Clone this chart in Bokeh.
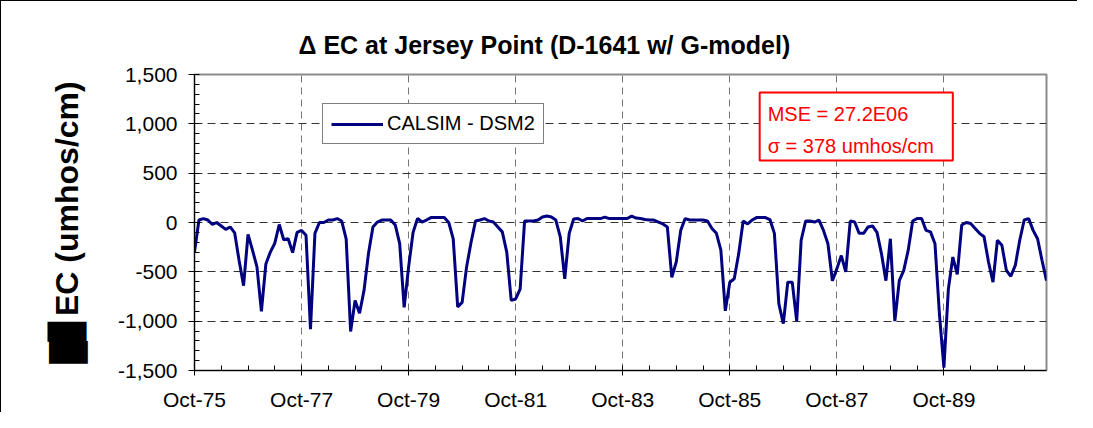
from bokeh.plotting import figure
from bokeh.models import (Range1d, FixedTicker, NumeralTickFormatter, Legend, LegendItem,
                          BoxAnnotation, Label)
from bokeh.embed import file_html
from bokeh.resources import INLINE

# ---------------- data ----------------
title_text = "\u0394 EC at Jersey Point (D-1641 w/ G-model)"
y_label = "\u2588\u258aEC (umhos/cm)"
series_name = "CALSIM - DSM2"
mse_text = "MSE = 27.2E06"
sigma_text = "\u03c3 = 378 umhos/cm"

tick_months = [0, 24, 48, 72, 96, 120, 144, 168]
tick_labels = ["Oct-75", "Oct-77", "Oct-79", "Oct-81", "Oct-83", "Oct-85", "Oct-87", "Oct-89"]
y_ticks = [-1500, -1000, -500, 0, 500, 1000, 1500]

ec_diff = [
    -300, 25, 40, 25, -20, 0, -35, -70, -45, -105, -385, -640,
    -120, -280, -450, -900, -420, -300, -210, -20, -175, -165, -305, -100,
    -80, -130, -1080, -110, 0, 0, 25, 25, 40, 15, -165, -1105,
    -790, -920, -690, -315, -45, 5, 25, 25, 25, -25, -215, -860,
    -450, -100, 40, 5, 25, 50, 50, 50, 50, 0, -165, -855,
    -810, -450, -200, 15, 25, 40, 15, 5, -45, -95, -300, -790,
    -775, -675, 15, 15, 15, 25, 55, 65, 55, 25, -145, -570,
    -110, 35, 40, 15, 40, 40, 40, 40, 55, 40, 40, 40,
    40, 40, 65, 45, 40, 30, 25, 25, 5, -15, -45, -555,
    -400, -80, 40, 25, 25, 25, 25, 15, -60, -110, -280, -895,
    -605, -570, -315, 15, -15, 25, 50, 50, 50, 30, -110, -825,
    -1025, -605, -605, -1000, -180, 15, 15, 5, 25, -80, -215, -590,
    -470, -335, -500, 15, 5, -110, -110, -45, -35, -100, -315, -590,
    -165, -1000, -590, -485, -280, 15, 40, 40, -80, -95, -215, -930,
    -1470, -675, -350, -525, -25, 0, -10, -60, -110, -145, -400, -605,
    -180, -230, -485, -545, -435, -180, 25, 40, -80, -165, -385, -590,
]
months = list(range(len(ec_diff)))

FONT = "Liberation Sans"

p = figure(width=1077, height=412, output_backend="svg", toolbar_location=None,
           x_range=Range1d(0, len(ec_diff) - 1), y_range=Range1d(-1500, 1500))
p.min_border_left = 193
p.min_border_right = 32
p.min_border_top = 73
p.min_border_bottom = 43
p.background_fill_color = "white"
p.border_fill_color = "white"
p.outline_line_color = "#8c8c8c"
p.outline_line_width = 2
p.styles = {"border-left": "1px solid black", "border-top": "1px solid black"}

# title
p.title.text = title_text
p.title.align = "left"
p.title.offset = 104
p.title.text_font = FONT
p.title.text_font_style = "bold"
p.title.text_font_size = "25px"
p.title.text_color = "black"
p.title.standoff = 31

# axes
p.xaxis.ticker = FixedTicker(ticks=tick_months, minor_ticks=list(range(0, len(ec_diff), 6)))
p.xaxis.major_label_overrides = {m: l for m, l in zip(tick_months, tick_labels)}
p.yaxis.ticker = FixedTicker(ticks=y_ticks, minor_ticks=list(range(-1500, 1501, 100)))
p.yaxis.formatter = NumeralTickFormatter(format="0,0")

for ax in (p.xaxis[0], p.yaxis[0]):
    ax.axis_line_color = "black"
    ax.axis_line_width = 1
    ax.major_tick_line_color = "black"
    ax.minor_tick_line_color = "black"
    ax.major_label_text_font = FONT
    ax.major_label_text_font_size = "21px"
    ax.major_label_text_color = "black"
    ax.minor_tick_out = 0
    ax.minor_tick_in = 5

p.xaxis.major_tick_out = 5
p.xaxis.major_tick_in = 0
p.xaxis.major_label_standoff = 12
p.yaxis.major_tick_out = 6
p.yaxis.major_tick_in = 4
p.yaxis.major_label_standoff = 11

p.yaxis.axis_label = y_label
p.yaxis.axis_label_text_font = FONT
p.yaxis.axis_label_text_font_style = "bold"
p.yaxis.axis_label_text_font_size = "32px"
p.yaxis.axis_label_text_color = "black"
p.yaxis.axis_label_standoff = 30

# grids
p.xgrid.grid_line_color = "#777777"
p.xgrid.grid_line_dash = "7 5"
p.xgrid.grid_line_width = 1
p.ygrid.grid_line_color = "#333333"
p.ygrid.grid_line_dash = "8 5"
p.ygrid.grid_line_width = 1

# series
r = p.line(months, ec_diff, line_color="#000080", line_width=3)

legend = Legend(items=[LegendItem(label=series_name, renderers=[r])], location=(128, 226))
legend.border_line_color = "black"
legend.border_line_width = 1
legend.background_fill_color = "white"
legend.background_fill_alpha = 1
legend.padding = 8
legend.margin = 0
legend.glyph_width = 52
legend.glyph_height = 20
legend.label_standoff = 4
legend.label_text_font = FONT
legend.label_text_font_size = "20px"
legend.label_text_color = "black"
p.add_layout(legend)

# statistics box
box = BoxAnnotation(left=126.7, right=170.0, top=1317, bottom=628,
                    fill_color="white", fill_alpha=1,
                    line_color="#ff0000", line_alpha=1, line_width=2)
p.add_layout(box)
p.add_layout(Label(x=128.5, y=1095, text=mse_text, text_color="#ff0000", text_font=FONT,
                   text_font_size="20px", text_baseline="alphabetic"))
p.add_layout(Label(x=128.5, y=780, text=sigma_text, text_color="#ff0000", text_font=FONT,
                   text_font_size="20px", text_baseline="alphabetic"))

open("out.html", "w").write(file_html(p, INLINE))
